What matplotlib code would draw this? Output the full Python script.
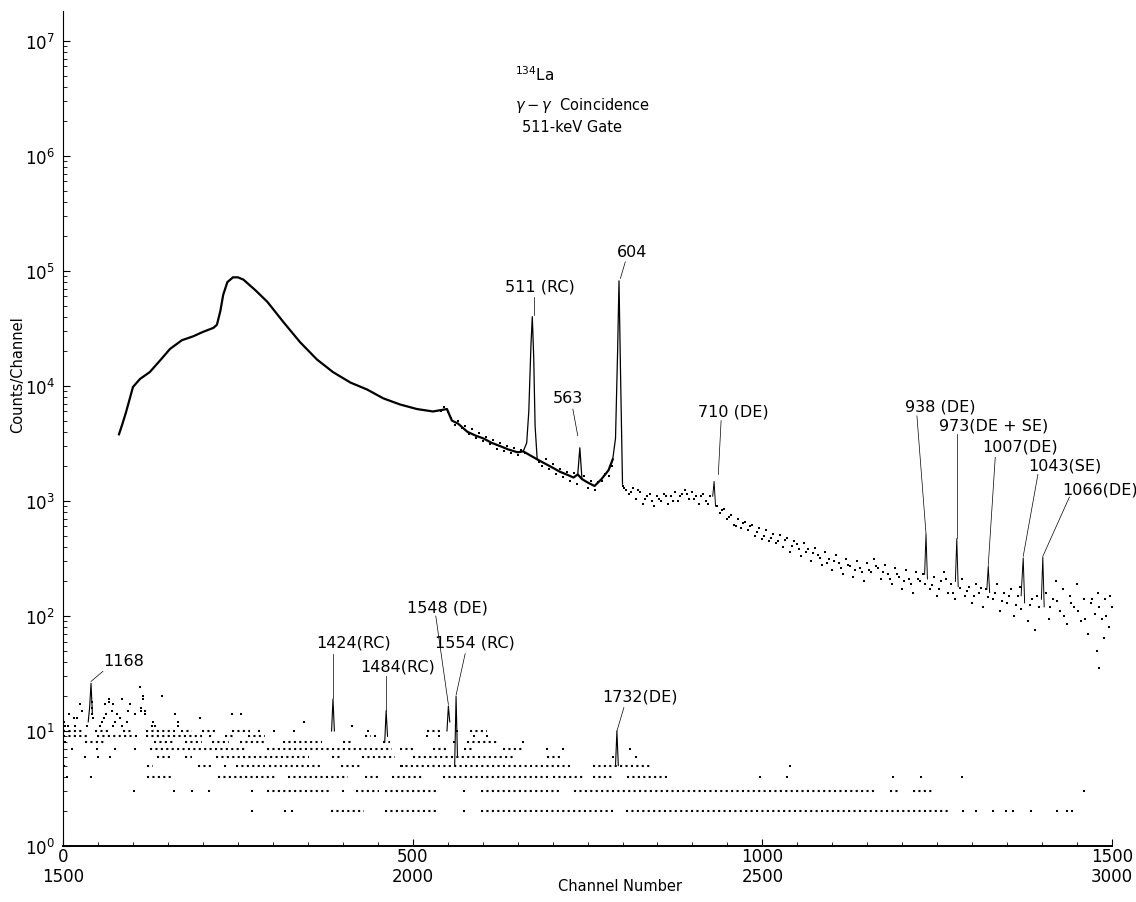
import matplotlib.pyplot as plt
from matplotlib.ticker import MultipleLocator, LogLocator, NullFormatter

# ---- upper spectrum (channels 0-1500): smooth continuum ----
cont_ch = [80, 85, 90, 95, 100, 110, 124, 140, 153, 170, 186, 200, 215, 220,
           225, 229, 235, 243, 250, 258, 275, 292, 315, 339, 363, 386, 411,
           435, 458, 482, 506, 529, 549, 556, 565, 578, 590, 601, 613, 625,
           637, 650, 658, 678, 690, 700, 710, 720, 730, 736, 742, 750, 760,
           770, 780, 786]
cont_counts = [3800, 4700, 5900, 7600, 9800, 11500, 13200, 17000, 21000,
               25000, 27000, 29500, 32000, 34000, 45000, 62000, 80000, 88000,
               88000, 84000, 68000, 54000, 36000, 24000, 17000, 13200, 10700,
               9300, 7800, 6900, 6300, 6000, 6300, 5000, 4700, 4000, 3700,
               3500, 3200, 3000, 2800, 2650, 2700, 2300, 2100, 1950, 1800,
               1700, 1600, 1700, 1550, 1450, 1350, 1550, 1850, 2300]

# strong peaks (511, 563, 604)
peak_ch = [[658, 663, 666, 669, 671, 673, 675, 678],
           [736, 739, 742],
           [786, 790, 793, 795, 797, 800]]
peak_counts = [[2700, 3200, 6000, 22000, 40000, 18000, 4500, 2300],
               [1700, 2900, 1550],
               [2300, 3500, 20000, 82000, 15000, 1400]]

# ---- upper spectrum: scattered channel contents ----
scatter_ch = [540, 545, 550, 555, 560, 565, 570, 575, 580, 585, 590, 595, 600,
              605, 610, 615, 620, 625, 630, 635, 640, 645, 650, 655, 660,
              680, 685, 690, 695, 700, 705, 710, 715, 720, 725, 730, 735, 745,
              750, 755, 760, 765, 770, 775, 780, 785,
              800, 805, 810, 815, 820, 825, 830, 835, 840, 845, 850, 855, 860,
              865, 870, 875, 880, 885, 890, 895, 900, 905, 910, 915, 920, 925,
              935, 940, 945, 950, 955, 960, 965, 970, 975, 980, 985, 990, 995,
              1000, 1005, 1010, 1015, 1020, 1025, 1030, 1035, 1040, 1045, 1050,
              1055, 1060, 1065, 1070, 1075, 1080, 1085, 1090, 1095, 1100, 1105,
              1110, 1115, 1120, 1125, 1130, 1135, 1140, 1145, 1150, 1155, 1160,
              1165, 1170, 1175, 1180, 1185, 1190, 1195, 1200, 1205, 1210, 1215,
              1220, 1225, 1230, 1240, 1245, 1250, 1255, 1260, 1265, 1270, 1275,
              1285, 1290, 1295, 1300, 1305, 1310, 1315, 1320, 1330, 1335, 1340,
              1345, 1350, 1355, 1360, 1365, 1370, 1380, 1385, 1390, 1395, 1405,
              1410, 1415, 1420, 1425, 1430, 1435, 1440, 1445, 1450, 1455, 1460,
              1465, 1470, 1475, 1478, 1480, 1482, 1485, 1490, 1495, 1500]
scatter_counts = [6100, 6600, 5900, 5300, 4600, 5000, 4300, 4500, 3800, 4200,
                  3500, 3900, 3300, 3600, 3100, 3400, 2850, 3200, 2700, 3000,
                  2600, 2900, 2500, 2800, 2600,
                  2200, 2000, 2300, 1900, 2100, 1700, 1900, 1600, 1800, 1500,
                  1750, 1400, 1650, 1300, 1500, 1250, 1450, 1500, 1700, 1650,
                  2000,
                  1350, 1250, 1150, 1300, 1050, 1200, 950, 1100, 1150, 900, 1100,
                  1000, 1150, 950, 1100, 1200, 1000, 1150, 1250, 1050, 1200,
                  1100, 950, 1150, 1000, 1100,
                  900, 780, 850, 700, 760, 620, 700, 580, 650, 560, 620, 500,
                  580, 470, 560, 450, 520, 430, 510, 400, 480, 360, 450, 420,
                  330, 430, 380, 300, 390, 340, 280, 360, 310, 250, 340, 290,
                  230, 310, 270, 220, 300, 260, 200, 290, 240, 310, 260, 210,
                  280, 230, 190, 260, 220, 170, 250, 210, 160, 240, 200, 230,
                  170, 220, 150, 200, 240, 160, 190, 140, 210, 150, 180, 130,
                  190, 160, 120, 170, 140, 190, 110, 160, 130, 170, 100, 150,
                  115, 90, 140, 75, 120, 160, 95, 140, 200, 110, 170, 85, 150,
                  120, 190, 90, 140, 70, 130, 105, 50, 160, 35, 95, 140, 80, 120]

extra_ch = [802, 812, 822, 832, 842, 852, 862, 872, 882, 892, 902, 912, 922,
            942, 952, 962, 972, 982, 992, 1002, 1012, 1022, 1032, 1042, 1052,
            1062, 1072, 1082, 1092, 1102, 1112, 1122, 1132, 1142, 1152, 1162,
            1172, 1182, 1192, 1202, 1212, 1222, 1232, 1242, 1252, 1262, 1272,
            1282, 1292, 1302, 1312, 1322, 1332, 1342, 1352, 1362, 1368, 1382,
            1392, 1412, 1422, 1432, 1442, 1452, 1462, 1472, 1482, 1488, 1492,
            1497]
extra_counts = [1300, 1200, 1250, 1050, 1000, 1050, 1100, 1000, 1100, 1150,
                1050, 1100, 950, 830, 720, 600, 640, 600, 540, 500, 480, 450,
                460, 410, 380, 360, 350, 320, 290, 300, 260, 280, 250, 240,
                250, 270, 240, 210, 230, 200, 190, 210, 190, 185, 170, 210,
                160, 175, 165, 150, 175, 145, 160, 135, 150, 125, 180, 125,
                150, 120, 135, 100, 130, 110, 95, 140, 120, 65, 100, 150]

# narrow peaks sitting on the noisy part
spike_ch = [[929, 931, 933], [1232, 1234, 1236], [1276, 1278, 1280],
            [1321, 1323, 1325], [1370, 1372, 1373, 1375], [1399, 1401, 1403]]
spike_counts = [[1100, 1480, 900], [230, 515, 210], [200, 470, 180],
                [170, 270, 160], [150, 250, 320, 130], [140, 325, 120]]

# ---- lower spectrum (channels 1500-3000, shown as 0-1500) ----
row_counts = [2, 3, 4, 5, 6, 7, 8, 9, 10]
row_spans = [
    [(383, 430), (460, 535), (597, 787), (805, 1268)],
    [(291, 380), (419, 452), (460, 538), (597, 710), (730, 1163), (1182, 1197),
     (1216, 1244)],
    [(120, 158), (222, 303), (322, 408), (432, 455), (470, 515), (543, 696),
     (700, 745), (758, 787), (806, 864)],
    [(0, 5), (120, 128), (193, 215), (248, 289), (294, 370), (398, 427),
     (482, 725), (758, 840)],
    [(135, 155), (175, 184), (218, 253), (258, 351), (384, 398), (427, 475),
     (501, 643), (692, 715)],
    [(125, 260), (291, 470), (482, 505), (529, 548), (573, 587), (629, 658)],
    [(31, 60), (130, 158), (175, 198), (213, 238), (253, 289), (315, 370),
     (400, 412), (458, 468), (578, 620)],
    [(0, 36), (48, 106), (118, 198), (208, 215), (232, 246), (265, 289),
     (432, 441)],
    [(0, 27), (46, 67), (86, 98), (118, 160), (169, 184), (198, 218),
     (241, 267), (520, 543), (582, 606)],
]

lower_ch = [270, 318, 327, 573, 1287, 1306, 1330, 1349, 1358, 1384, 1422, 1436,
            1443,
            101, 158, 184, 209, 270, 400, 573, 1460,
            5, 40, 997, 1035, 1187, 1227, 1286,
            232, 484, 1040,
            31, 50, 67, 787, 820,
            13, 48, 74, 103, 692, 715, 811,
            3, 559, 658,
            446, 520, 538, 587, 606,
            280, 301, 330, 436, 563,
            3, 7, 17, 34, 53, 72, 84, 127, 131, 165, 413,
            1, 55, 74, 91, 129, 165, 344,
            15, 20, 43, 58, 82, 196,
            8, 41, 62, 77, 103, 117, 160, 241, 255,
            27, 70, 93, 112, 117,
            41, 112,
            24, 60, 72, 96,
            41, 65,
            65, 84, 115,
            114, 141,
            110]
lower_counts = [2] * 13 + [3] * 8 + [4] * 7 + [5] * 3 + [6] * 5 + [7] * 7 + \
               [8] * 3 + [9] * 5 + [10] * 5 + [11] * 11 + [12] * 7 + \
               [13] * 6 + [14] * 9 + [15] * 5 + [16] * 2 + [17] * 4 + \
               [18] * 2 + [19] * 3 + [20] * 2 + [24]

lower_spike_ch = [[36, 38, 40, 42], [384, 386, 388], [460, 462, 464],
                  [549, 551, 553], [560, 562, 564], [790, 792, 794]]
lower_spike_counts = [[12, 16, 26, 14], [10, 19, 10], [8, 15, 9],
                      [10, 16.5, 12], [5, 20, 6], [5, 10, 5]]

# axis ticks: upper-spectrum channels and the matching lower-spectrum channels
tick_upper = [0, 500, 1000, 1500]
tick_lower = ["1500", "2000", "2500", "3000"]

# peak labels: text, label centre, leader start, leader end (data coords)
peak_labels = [
    ("511 (RC)", 682, 74000, 673, 59000, 673, 41000),
    ("604", 813, 148000, 804, 120000, 797, 86000),
    ("563", 722, 7900, 729, 6300, 736, 3700),
    ("710 (DE)", 958, 6000, 941, 5000, 937, 1700),
    ("938 (DE)", 1254, 6700, 1221, 5500, 1234, 520),
    ("973(DE + SE)", 1330, 4600, 1278, 3800, 1278, 480),
    ("1007(DE)", 1368, 3000, 1333, 2400, 1323, 275),
    ("1043(SE)", 1433, 2050, 1394, 1700, 1373, 330),
    ("1066(DE)", 1483, 1260, 1439, 1080, 1401, 330),
    ("1168", 86, 41, 57, 33, 40, 27),
    ("1424(RC)", 415, 60, 386, 47, 386, 19.5),
    ("1484(RC)", 478, 37, 462, 30, 462, 15),
    ("1548 (DE)", 549, 120, 533, 100, 551, 17),
    ("1554 (RC)", 589, 59, 575, 47, 562, 20.5),
    ("1732(DE)", 825, 20, 802, 16, 792, 10),
]


def draw_upper(ax):
    ax.plot(cont_ch, cont_counts, color="black", lw=1.6,
            solid_joinstyle="round")
    for xs, ys in zip(peak_ch, peak_counts):
        ax.plot(xs, ys, color="black", lw=0.9)
    ax.plot(scatter_ch, scatter_counts, ls="none", marker="s", ms=1.9,
            mew=0, color="black")
    ax.plot(extra_ch, extra_counts, ls="none", marker="s", ms=1.7,
            mew=0, color="black")
    for xs, ys in zip(spike_ch, spike_counts):
        ax.plot(xs, ys, color="black", lw=0.7)


def draw_lower(ax):
    for level, spans in zip(row_counts, row_spans):
        for x0, x1 in spans:
            ax.hlines(level, x0, x1, colors="black", lw=1.5,
                      linestyles=(0, (1.0, 1.6)))
    ax.plot(lower_ch, lower_counts, ls="none", marker="s", ms=2.0, mew=0,
            color="black")
    for xs, ys in zip(lower_spike_ch, lower_spike_counts):
        ax.plot(xs, ys, color="black", lw=0.8)


def draw_labels(ax):
    for text, tx, ty, x0, y0, x1, y1 in peak_labels:
        ax.text(tx, ty, text, ha="center", va="center", fontsize=11.5)
        ax.plot([x0, x1], [y0, y1], color="black", lw=0.5)
    ax.text(646, 5.2e6, r"$^{134}$La", fontsize=11, ha="left", va="center")
    ax.text(646, 2.8e6, r"$\gamma - \gamma$  Coincidence", fontsize=10.5,
            ha="left", va="center")
    ax.text(656, 1.8e6, "511-keV Gate", fontsize=10.5, ha="left",
            va="center")


def main():
    fig = plt.figure(figsize=(11.36, 9.03), dpi=100)
    ax = fig.add_axes([0.0555, 0.062, 0.9234, 0.9247])
    ax.set_yscale("log")
    ax.set_xlim(0, 1500)
    ax.set_ylim(1, 1.82e7)

    draw_upper(ax)
    draw_lower(ax)
    draw_labels(ax)

    ax.spines["top"].set_visible(False)
    ax.spines["right"].set_visible(False)
    ax.spines["bottom"].set_linewidth(1.4)
    ax.spines["left"].set_linewidth(0.8)

    ax.set_xticks(tick_upper)
    ax.tick_params(axis="x", labelsize=12, pad=1)
    ax.xaxis.set_minor_locator(MultipleLocator(50))

    # second row of channel numbers (lower spectrum) under the first row
    sec = ax.secondary_xaxis("bottom")
    sec.set_xticks(tick_upper)
    sec.set_xticklabels(tick_lower, fontsize=12)
    sec.tick_params(axis="x", length=0, pad=15)
    sec.spines["bottom"].set_visible(False)

    ax.yaxis.set_major_locator(LogLocator(base=10, numticks=10))
    ax.yaxis.set_minor_locator(LogLocator(base=10, subs=range(2, 10),
                                          numticks=20))
    ax.yaxis.set_minor_formatter(NullFormatter())
    ax.tick_params(which="both", direction="in")
    ax.tick_params(axis="y", labelsize=12, pad=6)
    ax.tick_params(which="major", length=5, width=0.8)
    ax.tick_params(which="minor", length=3, width=0.6)

    fig.text(18 / 1136, 1 - 375 / 903, "Counts/Channel", rotation=90,
             ha="center", va="center", fontsize=10.5)
    fig.text(620 / 1136, 1 - 887 / 903, "Channel Number", ha="center",
             va="center", fontsize=10.5)

    fig.savefig("out.png", dpi=100, facecolor="white")


if __name__ == "__main__":
    main()
